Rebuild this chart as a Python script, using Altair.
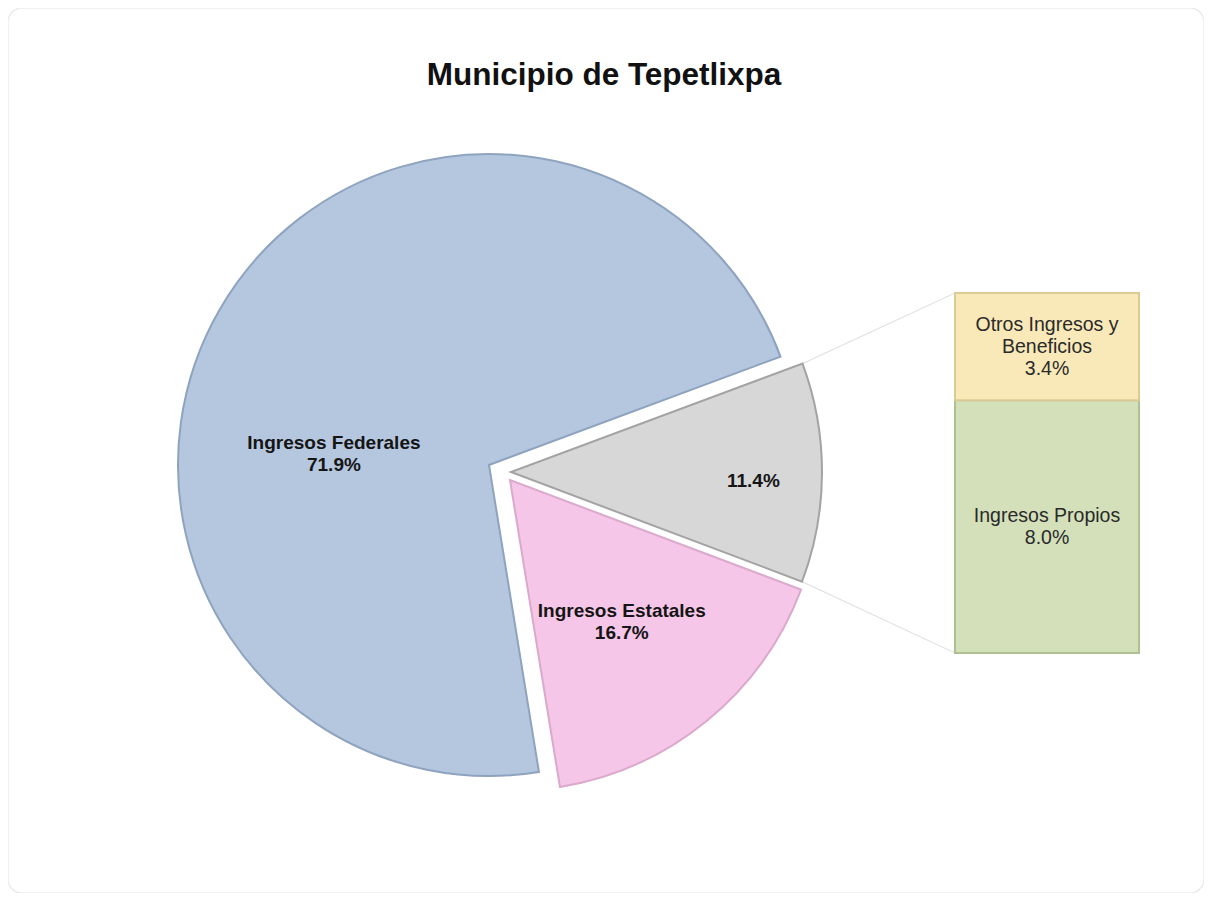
import math
import altair as alt
import pandas as pd

# ---------------- data ----------------
TITLE = "Municipio de Tepetlixpa"
PIE_CATEGORIES = ["Otros", "Ingresos Estatales", "Ingresos Federales"]
PIE_VALUES = [11.4, 16.7, 71.9]
PIE_LABEL_NAMES = ["", "Ingresos Estatales", "Ingresos Federales"]
BAR_CATEGORIES = ["Ingresos Propios", "Otros Ingresos y Beneficios"]  # bottom -> top
BAR_LABEL_NAMES = ["Ingresos Propios", "Otros Ingresos y\nBeneficios"]
BAR_VALUES = [8.0, 3.4]

# ---------------- layout / style (not data) ----------------
W, H = 1196, 885
CX, CY, R = 481, 457, 311           # pie centre (view px) and radius
START_DEG = 69.6                    # angle of first slice edge (clockwise from 12 o'clock)
EXPLODE = {"Otros": (22, 7), "Ingresos Estatales": (21, 15), "Ingresos Federales": (0, 0)}
LABEL_POLAR = {"Otros": (2.0, 0.78), "Ingresos Estatales": (1.0, 0.58), "Ingresos Federales": (-26.0, 0.50)}
PIE_FILL = ["#d7d7d7", "#f5c6e8", "#b4c7df"]
PIE_STROKE = ["#a3a3a3", "#dba9cb", "#8ea3bf"]
BAR_FILL = ["#d3e0ba", "#f9e9b9"]
BAR_STROKE = ["#aebf92", "#dccb93"]
BAR_X0, BAR_X1, BAR_TOP, BAR_BOTTOM = 947, 1131, 285, 645
FONT = "Liberation Sans"
LH = 22

# ---------------- pie table ----------------
total = sum(PIE_VALUES)
rows = []
cum = 0.0
for i, (c, v, n) in enumerate(zip(PIE_CATEGORIES, PIE_VALUES, PIE_LABEL_NAMES)):
    a_start = START_DEG + 360.0 * cum / total
    a_end = START_DEG + 360.0 * (cum + v) / total
    ox, oy = EXPLODE[c]
    cx, cy = CX + ox, CY + oy
    dang, rf = LABEL_POLAR[c]
    am = math.radians((a_start + a_end) / 2 + dang)
    lx = cx + rf * R * math.sin(am)
    ly = cy - rf * R * math.cos(am)
    pct = f"{v:.1f}%"
    label = f"{n}\n{pct}" if n else pct
    rows.append(dict(cat=c, value=v, idx=i, cx=cx, cy=cy, lx=lx, ly=ly, label=label,
                     nlines=label.count("\n") + 1, a_start=a_start, a_end=a_end))
    cum += v
pie_df = pd.DataFrame(rows)

a0 = math.radians(START_DEG)
arcs = alt.Chart(pie_df).mark_arc(radius=R, strokeWidth=2).encode(
    theta=alt.Theta("value:Q", stack=True,
                    scale=alt.Scale(domain=[0, total], range=[a0, a0 + 2 * math.pi])),
    order=alt.Order("idx:Q"),
    x=alt.X("cx:Q", scale=None, axis=None),
    y=alt.Y("cy:Q", scale=None, axis=None),
    color=alt.Color("cat:N", scale=alt.Scale(domain=PIE_CATEGORIES, range=PIE_FILL), legend=None),
    stroke=alt.Stroke("cat:N", scale=alt.Scale(domain=PIE_CATEGORIES, range=PIE_STROKE), legend=None),
)


def centered_text_layers(df, make_y, x_enc, **mark_kw):
    """One text layer per line count, shifted so the text block is centred."""
    layers = []
    for n in sorted(df["nlines"].unique()):
        layers.append(
            alt.Chart(df).transform_filter(alt.datum.nlines == int(n)).mark_text(
                lineBreak="\n", lineHeight=LH, align="center", baseline="middle",
                dy=-(int(n) - 1) * LH / 2, **mark_kw
            ).encode(x=x_enc, y=make_y(), text="label:N")
        )
    return layers


pie_labels = centered_text_layers(
    pie_df, lambda: alt.Y("ly:Q", scale=None, axis=None), alt.X("lx:Q", scale=None, axis=None),
    font=FONT, fontSize=19, fontWeight="bold", color="#151515",
)

# ---------------- connector lines (grey slice corners -> bar corners) ----------------
g = pie_df.iloc[0]
conn_rows = []
for ang, by in [(g.a_start, BAR_TOP), (g.a_end, BAR_BOTTOM)]:
    a = math.radians(ang)
    conn_rows.append(dict(x=g.cx + R * math.sin(a), y=g.cy - R * math.cos(a), x2=BAR_X0, y2=by))
conn_df = pd.DataFrame(conn_rows)
connectors = alt.Chart(conn_df).mark_rule(color="#e4e4e4", strokeWidth=1.2).encode(
    x=alt.X("x:Q", scale=None, axis=None), y=alt.Y("y:Q", scale=None, axis=None),
    x2="x2:Q", y2="y2:Q",
)

# ---------------- bar of pie ----------------
bar_rows = []
cum = 0.0
for i, (c, v, n) in enumerate(zip(BAR_CATEGORIES, BAR_VALUES, BAR_LABEL_NAMES)):
    label = f"{n}\n{v:.1f}%"
    bar_rows.append(dict(cat=c, value=v, y0=cum, y1=cum + v, mid=cum + v / 2,
                         label=label, nlines=label.count("\n") + 1))
    cum += v
bar_df = pd.DataFrame(bar_rows)
bar_scale = alt.Scale(domain=[0, sum(BAR_VALUES)], range=[BAR_BOTTOM, BAR_TOP])

bars = alt.Chart(bar_df).mark_bar(strokeWidth=2).encode(
    x=alt.value(BAR_X0), x2=alt.value(BAR_X1),
    y=alt.Y("y0:Q", scale=bar_scale, axis=None), y2="y1:Q",
    color=alt.Color("cat:N", scale=alt.Scale(domain=BAR_CATEGORIES, range=BAR_FILL), legend=None),
    stroke=alt.Stroke("cat:N", scale=alt.Scale(domain=BAR_CATEGORIES, range=BAR_STROKE), legend=None),
)
bar_labels = centered_text_layers(
    bar_df, lambda: alt.Y("mid:Q", scale=bar_scale, axis=None), alt.value((BAR_X0 + BAR_X1) / 2),
    font=FONT, fontSize=19.5, color="#2a2a2a",
)

# ---------------- title ----------------
title = alt.Chart(pd.DataFrame({"t": [TITLE]})).mark_text(
    font=FONT, fontSize=31.5, fontWeight="bold", color="#111111", align="center", baseline="middle",
).encode(text="t:N", x=alt.value(W / 2 - 2), y=alt.value(68))

chart = alt.layer(connectors, arcs, *pie_labels, bars, *bar_labels, title).resolve_scale(
    x="independent", y="independent", color="independent", stroke="independent", theta="independent"
).properties(
    width=W, height=H, padding=0, autosize="none", background="white"
).configure_view(stroke="#ebebeb", strokeWidth=1.5, cornerRadius=14)

chart.save("out.html", embed_options={"renderer": "svg", "actions": False})
